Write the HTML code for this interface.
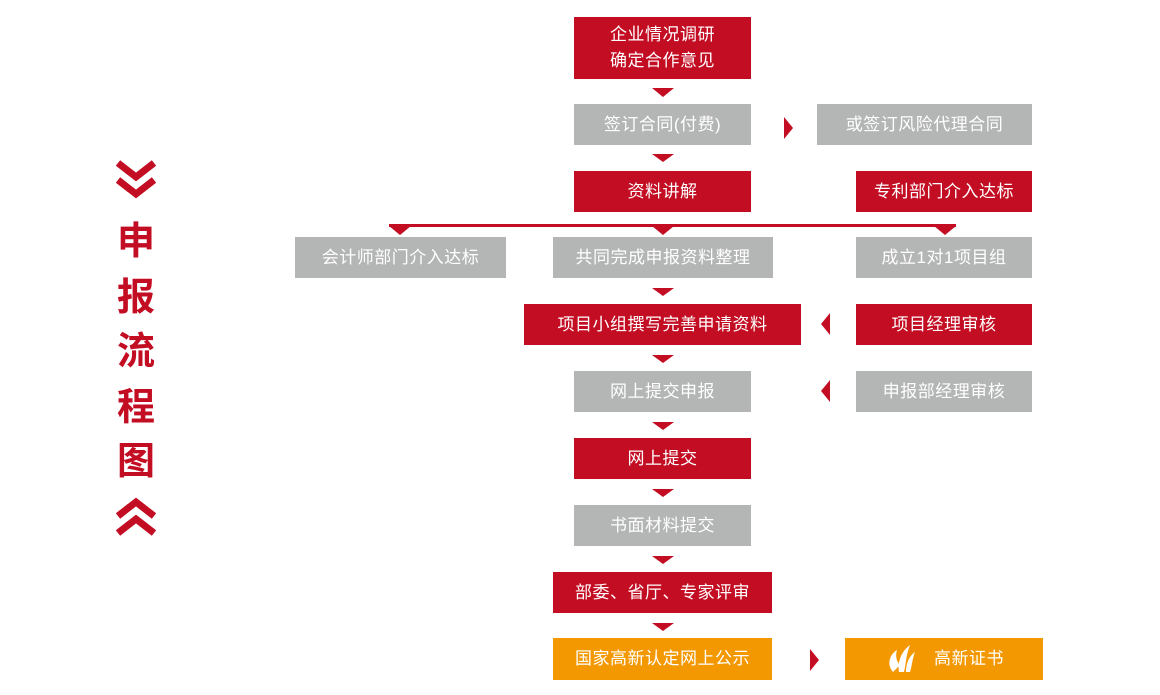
<!DOCTYPE html>
<html><head><meta charset="utf-8"><style>
body{margin:0;width:1160px;height:695px;background:#fff;position:relative;overflow:hidden;font-family:"Liberation Sans","Noto Sans CJK SC",sans-serif}
.b{position:absolute;color:#fff;font-size:17px;display:flex;align-items:center;justify-content:center;text-align:center;line-height:26px;letter-spacing:0.5px}
.r{background:#c30d23}.g{background:#b4b5b5}.o{background:#f39800}
.t{position:absolute;color:#c30d23;font-size:38px;font-weight:bold;width:60px;text-align:center;left:106px;line-height:40px}
svg{position:absolute;left:0;top:0}
</style></head><body>
<div class="b r" style="left:574px;top:17px;width:177px;height:62px">企业情况调研<br>确定合作意见</div>
<div class="b g" style="left:574px;top:104px;width:177px;height:41px">签订合同(付费)</div>
<div class="b g" style="left:817px;top:104px;width:215px;height:41px">或签订风险代理合同</div>
<div class="b r" style="left:574px;top:171px;width:177px;height:41px">资料讲解</div>
<div class="b r" style="left:856px;top:171px;width:176px;height:41px">专利部门介入达标</div>
<div class="b g" style="left:295px;top:237px;width:211px;height:41px">会计师部门介入达标</div>
<div class="b g" style="left:553px;top:237px;width:220px;height:41px">共同完成申报资料整理</div>
<div class="b g" style="left:856px;top:237px;width:176px;height:41px">成立1对1项目组</div>
<div class="b r" style="left:524px;top:304px;width:277px;height:41px">项目小组撰写完善申请资料</div>
<div class="b r" style="left:856px;top:304px;width:176px;height:41px">项目经理审核</div>
<div class="b g" style="left:574px;top:371px;width:177px;height:41px">网上提交申报</div>
<div class="b g" style="left:856px;top:371px;width:176px;height:41px">申报部经理审核</div>
<div class="b r" style="left:574px;top:438px;width:177px;height:41px">网上提交</div>
<div class="b g" style="left:574px;top:505px;width:177px;height:41px">书面材料提交</div>
<div class="b r" style="left:553px;top:572px;width:219px;height:41px">部委、省厅、专家评审</div>
<div class="b o" style="left:553px;top:638px;width:219px;height:42px">国家高新认定网上公示</div>
<div class="b o" style="left:845px;top:638px;width:198px;height:42px"><span style="margin-left:50px">高新证书</span></div>
<div class="t" style="top:222px">申</div>
<div class="t" style="top:278px">报</div>
<div class="t" style="top:332px">流</div>
<div class="t" style="top:388px">程</div>
<div class="t" style="top:442px">图</div>
<svg width="1160" height="695">
<g fill="#c30d23">
<polygon points="652,88 674,88 663,97"/>
<polygon points="652,154 674,154 663,162"/>
<polygon points="652,288 674,288 663,296"/>
<polygon points="652,355 674,355 663,363"/>
<polygon points="652,422 674,422 663,430"/>
<polygon points="652,489 674,489 663,497"/>
<polygon points="652,556 674,556 663,564"/>
<polygon points="652,623 674,623 663,631"/>
<rect x="389" y="224" width="567" height="3"/>
<polygon points="389,226 411,226 400,235"/>
<polygon points="652,226 674,226 663,235"/>
<polygon points="934,226 956,226 945,235"/>
<polygon points="784,117 793,128 784,139"/>
<polygon points="830,313 821,324 830,335"/>
<polygon points="830,380 821,391 830,402"/>
<polygon points="810,649 819,660 810,671"/>
<polyline points="118,163 136,177 154,163" fill="none" stroke="#c30d23" stroke-width="7"/>
<polyline points="118,180 136,194 154,180" fill="none" stroke="#c30d23" stroke-width="7"/>
<polyline points="118,516 136,502 154,516" fill="none" stroke="#c30d23" stroke-width="7"/>
<polyline points="118,533 136,519 154,533" fill="none" stroke="#c30d23" stroke-width="7"/>
</g>
<g fill="#fff">
<path d="M893,672 C886,664 890,654 897,650 C895,657 897,662 900,665 Z"/>
<path d="M899,672 C897,660 903,650 910,645 C906,655 906,664 904,672 Z"/>
<path d="M906,672 C906,660 912,654 915,652 C912,660 912,666 910,672 Z"/>
</g>
</svg>
</body></html>
